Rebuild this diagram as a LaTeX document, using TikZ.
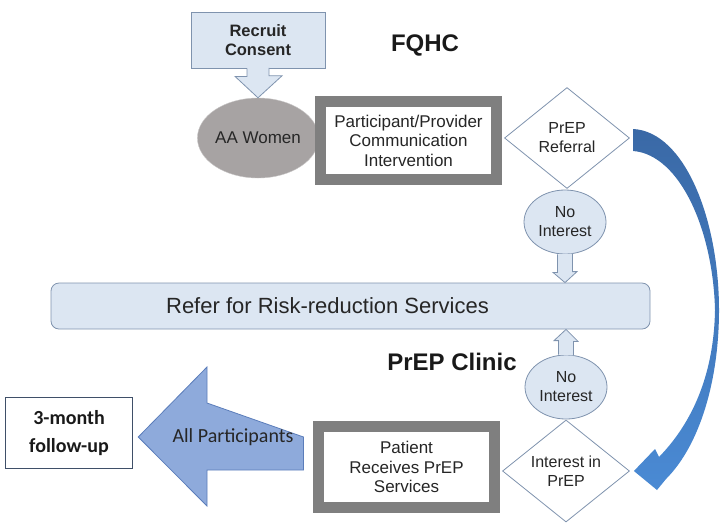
\documentclass[tikz,border=0pt]{standalone}
\usepackage{fontspec}
\setmainfont{Liberation Sans}
\newfontfamily\carlito{Carlito}
\usetikzlibrary{shapes.geometric}
\definecolor{paleblue}{HTML}{DCE6F2}
\definecolor{edgeblue}{HTML}{7F93AE}
\definecolor{boxgray}{HTML}{7F7F7F}
\definecolor{womengray}{HTML}{A7A3A3}
\definecolor{arrowblue}{HTML}{8EAADB}
\definecolor{arrowedge}{HTML}{5B7DBA}
\definecolor{curvetop}{HTML}{3A69A6}
\definecolor{curvebot}{HTML}{4A8AD4}
\definecolor{slate}{HTML}{3F4F68}

\begin{document}
\begin{tikzpicture}[x=1pt,y=-1pt,
    txt/.style={font=\fontsize{17}{19.5}\selectfont, align=center, text=black!85},
    thickbox/.style={txt, draw=boxgray, line width=11pt, fill=white, minimum width=176pt, inner sep=0pt},
    bluefill/.style={fill=paleblue, draw=edgeblue, line width=0.8pt},
    noint/.style={txt, ellipse, bluefill, minimum width=82pt, minimum height=64pt, inner sep=0pt, font=\fontsize{16}{19}\selectfont},
    decision/.style={txt, diamond, draw=edgeblue, line width=0.8pt, fill=white, inner sep=0pt, font=\fontsize{16}{19}\selectfont},
    heading/.style={font=\bfseries\fontsize{24}{28}\selectfont, text=black!90}]

    \useasboundingbox (0,0) rectangle (727,531);

    % FQHC part
    \node[txt, bluefill, minimum width=134pt, minimum height=56pt, font=\bfseries\fontsize{16.5}{19}\selectfont] (recruit) at (258,40) {Recruit\\Consent};
    \node[txt, ellipse, fill=womengray, draw=womengray!60, minimum width=111pt, minimum height=80pt, inner sep=0pt] (aa) at (258,138) {AA Women};
    \node[thickbox, minimum height=78pt] (comm) at (408.5,140.5) {Participant/Provider\\Communication\\Intervention};
    \node[decision, minimum width=125pt, minimum height=101pt] (referral) at (567,138) {PrEP\\Referral};
    \node[heading] (fqhc) at (425,45) {FQHC};
    \node[noint] (noint1) at (565,222) {No\\Interest};

    \fill[paleblue] ([xshift=-11pt,yshift=1pt]recruit.south) -- ++(0,9) -- ++(-12,0) -- (aa.north) -- ++(24,-22) -- ++(-13,0) -- ++(0,-9) -- cycle;
    \draw[edgeblue, line width=0.8pt] ([xshift=-11pt]recruit.south) -- ++(0,8) -- ++(-12,0) -- (aa.north) -- ++(24,-22) -- ++(-13,0) -- ++(0,-8);

    % middle
    \node[bluefill, rounded corners=8pt, minimum width=599pt, minimum height=46pt] (refer) at (350.5,306) {};
    \node[txt, font=\fontsize{22}{26}\selectfont] (refertext) at ([xshift=-23pt]refer.center) {Refer for Risk-reduction Services};

    \draw[bluefill] ([xshift=-7.5pt]noint1.south) -- ++(0,18) -- ++(-4.5,0) -- (noint1.south |- refer.north) -- ++(12,-11) -- ++(-4.5,0) -- ++(0,-18);

    % PrEP clinic part
    \node[heading] (clinic) at (452,362) {PrEP Clinic};
    \node[noint] (noint2) at (566,387) {No\\Interest};
    \node[decision, minimum width=127pt, minimum height=102pt] (interest) at (566,471) {Interest in\\PrEP};
    \node[thickbox, minimum height=81pt] (patient) at (406.5,467) {Patient\\Receives PrEP\\Services};
    \node[draw=slate, line width=1.5pt, minimum width=127pt, minimum height=71pt, align=center, text=black!90,
          font=\bfseries\carlito\fontsize{20}{28}\selectfont] (followup) at (69,433) {3-month\\follow-up};

    \draw[bluefill] ([xshift=-7.5pt]noint2.north) -- ++(0,-14) -- ++(-4.5,0) -- (noint2.north |- refer.south) -- ++(12,12) -- ++(-4.5,0) -- ++(0,14);

    % block arrow to follow-up
    \draw[fill=arrowblue, draw=arrowedge, line width=0.8pt, line join=miter]
        ([xshift=-9.5pt,yshift=30pt]patient.west) -- (207,403) -- (207,367) -- ([xshift=5pt,yshift=-4pt]followup.east)
        -- (207,506) -- (207,470) -- ([xshift=-9.5pt,yshift=-3pt]patient.west) -- cycle;
    \node[font=\carlito\fontsize{20}{24}\selectfont, text=black!85] (allp) at (233,437) {All Participants};

    % curved arrow from referral to interest
    \shade[top color=curvetop, bottom color=curvebot]
        ([xshift=3.5pt,yshift=9pt]referral.east) .. controls (685,132) and (719,220) .. (719,310)
        .. controls (719,380) and (700,445) .. (666,479) -- (657,490) -- ([xshift=4pt]interest.east)
        -- (655,449) -- (659,457) .. controls (695,420) and (714,370) .. (715,310)
        .. controls (713,230) and (680,155) .. ([xshift=3.5pt,yshift=-13pt]referral.east) -- cycle;
\end{tikzpicture}
\end{document}
